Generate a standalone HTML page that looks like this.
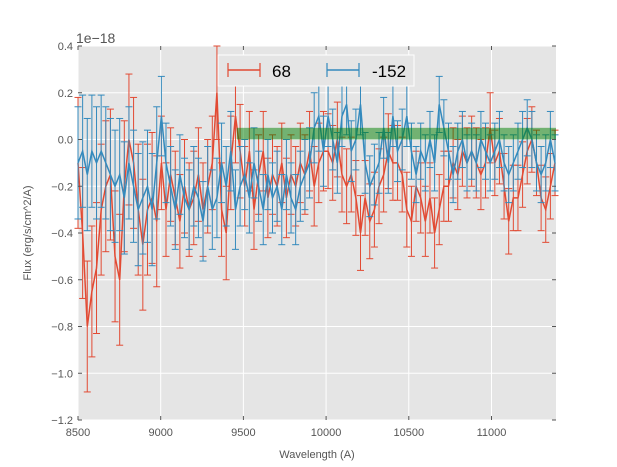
<!DOCTYPE html>
<html><head><meta charset="utf-8"><style>
body{margin:0;background:#fff;}
svg{display:block;font-family:"Liberation Sans","DejaVu Sans",sans-serif;}
</style></head><body>
<svg id="chart" width="617" height="467" viewBox="0 0 617 467">
<rect x="78" y="46" width="478" height="374" fill="#E5E5E5"/>
<g id="grid"></g>
<g id="series"></g>
<g id="band"></g>
<g id="axes"></g>
<text x="76" y="43" font-size="14" fill="#555">1e−18</text>
<text x="317" y="458" font-size="11" text-anchor="middle" fill="#555">Wavelength (A)</text>
<text transform="translate(31,233) rotate(-90)" font-size="11" text-anchor="middle" fill="#555">Flux (erg/s/cm^2/A)</text>
<g>
<rect x="218" y="55" width="196" height="31" fill="#E5E5E5" stroke="#fff" stroke-width="1"/>
<g>
<line x1="228" y1="70" x2="260" y2="70" stroke="#E24A33" stroke-width="1.5"/>
<line x1="228" y1="63" x2="228" y2="77" stroke="#E24A33" stroke-width="1.2"/>
<line x1="260" y1="63" x2="260" y2="77" stroke="#E24A33" stroke-width="1.2"/>
<text x="272" y="77" font-size="17" fill="#000">68</text></g>
<g>
<line x1="327" y1="70" x2="359" y2="70" stroke="#348ABD" stroke-width="1.5"/>
<line x1="327" y1="63" x2="327" y2="77" stroke="#348ABD" stroke-width="1.2"/>
<line x1="359" y1="63" x2="359" y2="77" stroke="#348ABD" stroke-width="1.2"/>
<text x="372" y="77" font-size="17" fill="#000">-152</text></g>
</g>
</svg>
<script>
const xStart = 8500, xStep = 28;
const redValues = [-0.1,-0.4,-0.8,-0.65,-0.55, -0.3,-0.2,-0.15,-0.5,-0.6,
-0.2,0.0,-0.1,-0.3,-0.45, -0.3,-0.25,-0.35,-0.1,-0.3,
-0.15,-0.25,-0.35,-0.2,-0.3, -0.25,-0.15,-0.3,-0.2,-0.1,
0.2,-0.3,-0.4,-0.1,0.1, -0.05,-0.2,-0.05,-0.3,-0.15,
-0.05,-0.25,-0.15,-0.2,-0.1, -0.25,-0.15,-0.2,-0.1,-0.15,
-0.05,-0.2,-0.1,-0.05,-0.05, -0.1,0.0,-0.15,-0.2,-0.15,
-0.25,-0.4,-0.25,-0.35,-0.3, -0.2,-0.15,-0.05,-0.1,-0.1,
-0.15,-0.3,-0.35,-0.2,-0.25, -0.35,-0.25,-0.4,-0.3,-0.2,
-0.2,-0.1,-0.15,-0.05,-0.1, -0.05,-0.1,-0.15,-0.1,0.05,
-0.1,-0.05,-0.2,-0.35,-0.25, -0.25,-0.15,-0.05,0.0,-0.1,
-0.25,-0.3,-0.2,-0.1];
const blueValues = [-0.1,-0.05,-0.15,-0.05,-0.1, -0.05,-0.1,-0.15,-0.2,-0.15,
-0.25,-0.1,-0.2,-0.3,-0.25, -0.2,-0.3,-0.1,0.1,-0.1,
-0.2,-0.3,-0.15,-0.25,-0.3, -0.2,-0.25,-0.35,-0.2,-0.3,
-0.25,-0.1,-0.2,-0.05,-0.3, -0.2,-0.15,-0.25,-0.1,-0.2,
-0.3,-0.15,-0.25,-0.2,-0.3, -0.15,-0.25,-0.3,-0.2,-0.15,
-0.1,0.05,0.1,-0.05,0.1, 0.0,-0.1,0.1,0.15,-0.05,
0.0,0.15,-0.1,-0.2,-0.15, -0.1,0.05,-0.1,0.1,-0.05,
0.0,0.1,-0.05,-0.15,-0.05, -0.1,0.0,-0.1,0.15,0.05,
-0.05,-0.15,-0.05,0.0,-0.1, -0.05,-0.1,0.0,-0.05,-0.1,
-0.05,0.0,-0.1,-0.15,-0.1, -0.05,0.0,0.05,0.0,-0.1,
-0.15,-0.1,0.0,-0.1];
const redErrSeg = [0.28,0.2,0.17,0.16,0.15,0.14];
const blueErrSeg = [0.24,0.17,0.15,0.13,0.12,0.12];
const xTicks = [8500,9000,9500,10000,10500,11000];
const yTicks = [0.4,0.2,0.0,-0.2,-0.4,-0.6,-0.8,-1.0,-1.2];
const bandRange = [9460, 11400, 0.0, 0.05];

const X0=78,X1=556,Y0=46,Y1=420,xMin=8500,xMax=11390,yMin=-1.2,yMax=0.4;
const sx=v=>X0+(v-xMin)/(xMax-xMin)*(X1-X0);
const sy=v=>Y1-(v-yMin)/(yMax-yMin)*(Y1-Y0);
const NS="http://www.w3.org/2000/svg";
function mk(tag,attrs,parent){const e=document.createElementNS(NS,tag);for(const k in attrs)e.setAttribute(k,attrs[k]);parent.appendChild(e);return e;}
const grid=document.getElementById('grid'),axes=document.getElementById('axes');
xTicks.forEach(t=>{const x=sx(t);
 const g=mk('line',{x1:x,x2:x,y1:Y0,y2:Y1,stroke:'#fff','stroke-width':1},grid);
 
 
 mk('line',{x1:x,x2:x,y1:Y1,y2:Y1-4,stroke:'#555'},axes);
 mk('line',{x1:x,x2:x,y1:Y0,y2:Y0+4,stroke:'#555'},axes);
 const l=mk('text',{x:x,y:Y1+16,'font-size':11,'text-anchor':'middle',fill:'#555'},axes);l.textContent=t;
 
 });
yTicks.forEach(t=>{const y=sy(t);
 const g=mk('line',{x1:X0,x2:X1,y1:y,y2:y,stroke:'#fff','stroke-width':1},grid);
 
 
 mk('line',{x1:X0,x2:X0+4,y1:y,y2:y,stroke:'#555'},axes);
 mk('line',{x1:X1,x2:X1-4,y1:y,y2:y,stroke:'#555'},axes);
 const l=mk('text',{x:X0-5,y:y+4,'font-size':11,'text-anchor':'end',fill:'#555'},axes);l.textContent=t.toFixed(1).replace('-','−');
 
 });
const ser=document.getElementById('series');
function draw(vals,segs,color,name){
 const g=mk('g',{},ser);
 
 
 const pts=[];
 vals.forEach((v,i)=>{const w=xStart+i*xStep;if(w>xMax)return;const x=sx(w);const e=segs[Math.min(segs.length-1,Math.floor((w-8500)/500))];
  const a=Math.max(sy(v+e),Y0-6),b=Math.min(sy(v-e),Y1);
  mk('line',{x1:x,x2:x,y1:a,y2:b,stroke:color,'stroke-width':1},g);
  if(sy(v+e)>=Y0-6)mk('line',{x1:x-3.5,x2:x+3.5,y1:a,y2:a,stroke:color,'stroke-width':1},g);
  mk('line',{x1:x-3.5,x2:x+3.5,y1:b,y2:b,stroke:color,'stroke-width':1},g);
  pts.push(x.toFixed(1)+','+sy(v).toFixed(1));});
 const p=mk('polyline',{points:pts.join(' '),fill:'none',stroke:color,'stroke-width':1.5},g);
 
 
}
draw(redValues,redErrSeg,'#E24A33','series-68');
draw(blueValues,blueErrSeg,'#348ABD','series-neg152');
const band=mk('rect',{x:sx(bandRange[0]),y:sy(bandRange[3]),width:sx(Math.min(bandRange[1],xMax))-sx(bandRange[0]),height:sy(bandRange[2])-sy(bandRange[3]),fill:'#008000','fill-opacity':0.5},document.getElementById('band'));


</script>
</body></html>
